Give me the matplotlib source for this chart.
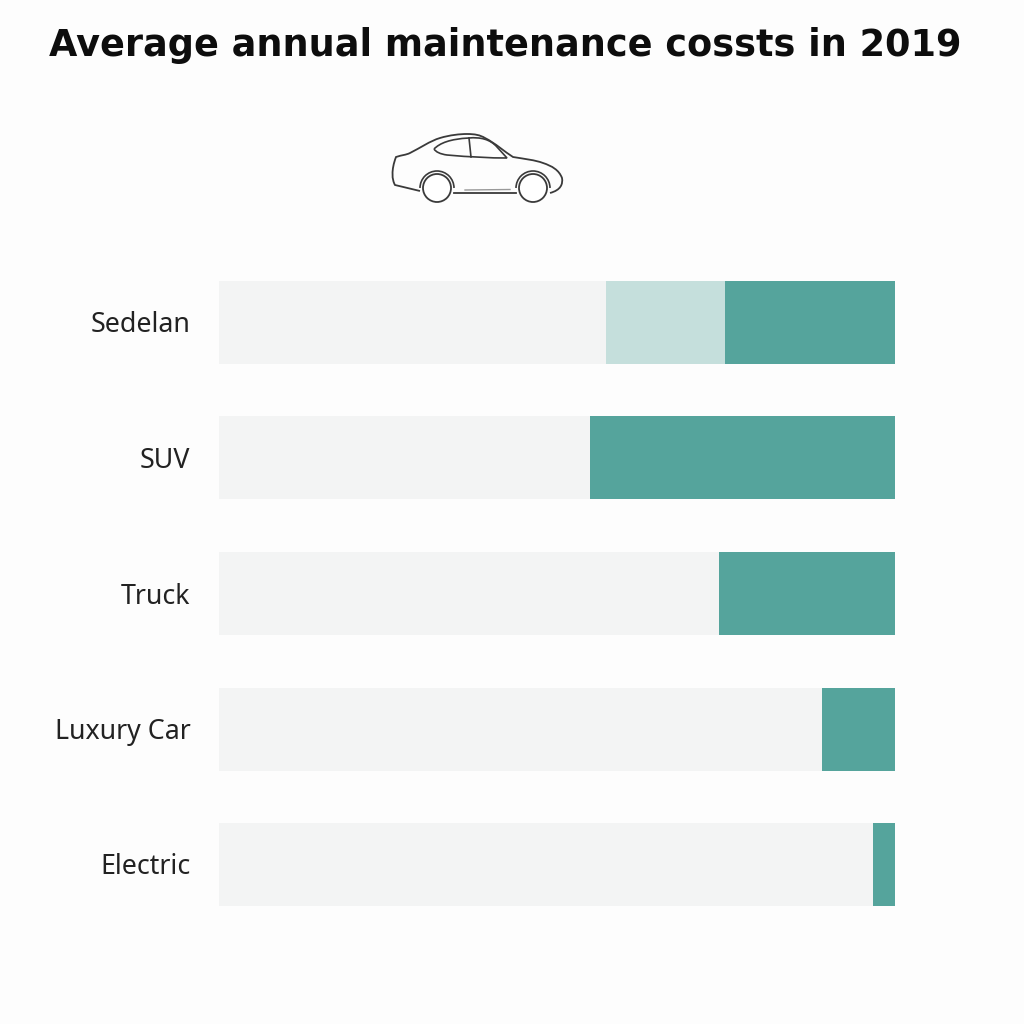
import matplotlib
matplotlib.use("Agg")
import matplotlib.pyplot as plt
from matplotlib.patches import Circle, Arc, PathPatch
from matplotlib.path import Path

categories = ["Sedelan", "SUV", "Truck", "Luxury Car", "Electric"]
grey_end = [606, 590, 719, 822, 873]
light_end = [725, 590, 719, 822, 873]
axis_end = 895
axis_start = 219
centers = [322.5, 457.5, 593.5, 729, 864]
bar_height = 83

fig = plt.figure(figsize=(10.24, 10.24), dpi=100, facecolor="#fdfdfd")
ax = fig.add_axes([0, 0, 1, 1])
ax.set_xlim(0, 1024)
ax.set_ylim(1024, 0)
ax.axis("off")

for name, g, l, c in zip(categories, grey_end, light_end, centers):
    ax.barh(c, g - axis_start, left=axis_start, height=bar_height, color="#f3f4f4", lw=0)
    if l > g:
        ax.barh(c, l - g, left=g, height=bar_height, color="#c5dfdc", lw=0)
    ax.barh(c, axis_end - l, left=l, height=bar_height, color="#55a49c", lw=0)
    ax.text(190.5, c + 3, name, ha="right", va="center", fontsize=19.3,
            family="Noto Sans", color="#222222")

ax.text(505, 46, "Average annual maintenance cossts in 2019", ha="center", va="center",
        fontsize=26.4, fontweight="bold", family="DejaVu Sans", color="#0d0d0d")

# car outline icon
ink = "#3a3a3a"
M, C, L = Path.MOVETO, Path.CURVE4, Path.LINETO
body = [(M, (420, 191)), (L, (395, 185)),
        (C, (392, 180)), (C, (391, 170)), (C, (396, 157)),
        (C, (402, 155)), (C, (406, 155)), (C, (410, 153)),
        (C, (420, 148)), (C, (430, 141)), (C, (440, 138)),
        (C, (450, 135)), (C, (460, 134)), (C, (467, 134)),
        (C, (475, 134)), (C, (480, 135)), (C, (485, 138)),
        (C, (495, 143)), (C, (505, 152)), (C, (513, 157)),
        (C, (525, 159)), (C, (535, 160)), (C, (543, 163)),
        (C, (552, 166)), (C, (559, 170)), (C, (562, 178)),
        (C, (563, 184)), (C, (561, 190)), (C, (550, 193))]
codes, verts = zip(*[(a, b) for a, b in body])
ax.add_patch(PathPatch(Path(verts, codes), fc="none", ec=ink, lw=1.3))
ax.plot([454, 516], [193, 193], color=ink, lw=1.3)
ax.plot([465, 510], [190, 189.5], color="#999999", lw=1.0)
win = [(M, (434, 149)),
       (C, (440, 143)), (C, (450, 139)), (C, (469, 138)),
       (C, (480, 137)), (C, (490, 139)), (C, (497, 147)),
       (L, (507, 158)),
       (C, (490, 158)), (C, (470, 157)), (C, (447, 155)),
       (C, (440, 154)), (C, (436, 152)), (C, (434, 149))]
codes, verts = zip(*win)
ax.add_patch(PathPatch(Path(verts, codes), fc="none", ec=ink, lw=1.2))
ax.plot([469, 471], [138, 157], color=ink, lw=1.2)
for x in (437, 533):
    ax.add_patch(Arc((x, 188), 34, 34, theta1=180, theta2=360, ec=ink, lw=1.2))
    ax.add_patch(Circle((x, 188), 14, fc="white", ec=ink, lw=1.3, zorder=3))

fig.savefig("out.png", dpi=100, facecolor=fig.get_facecolor())
